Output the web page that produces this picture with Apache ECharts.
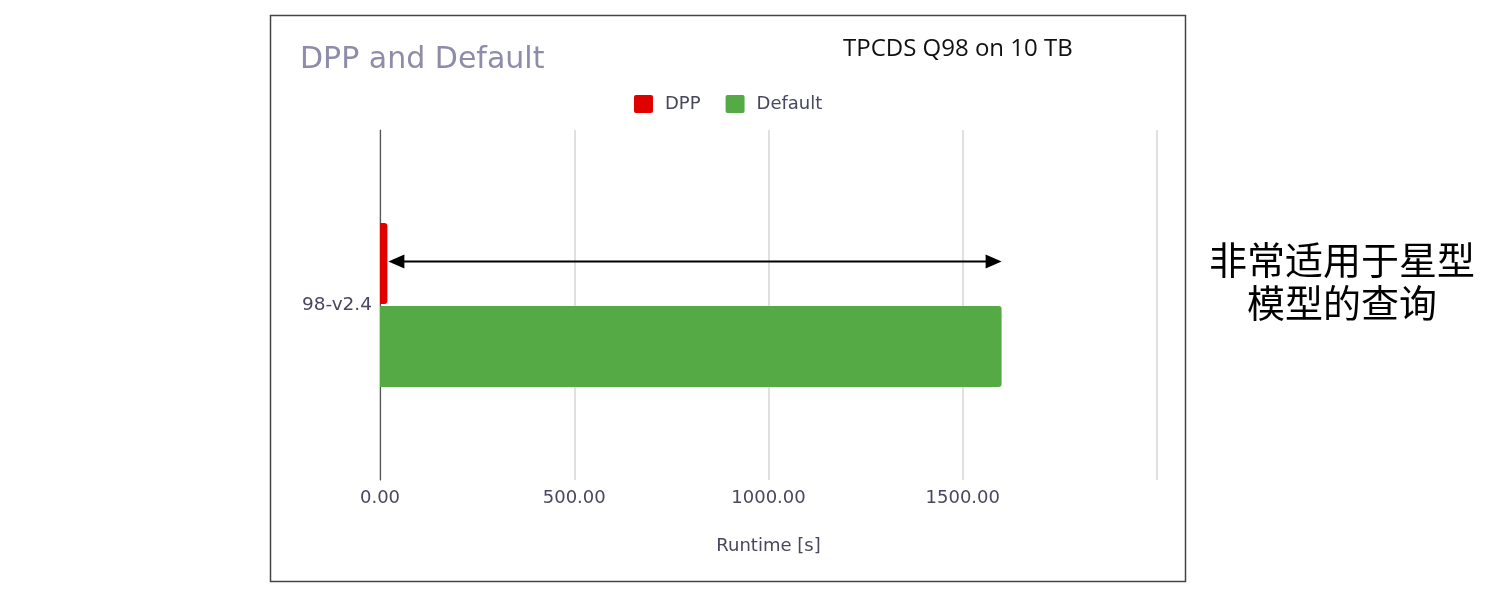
<!DOCTYPE html>
<html>
<head>
<meta charset="utf-8">
<script src="https://cdn.jsdelivr.net/npm/echarts@6/dist/echarts.min.js"></script>
<style>
html,body{margin:0;padding:0;background:#fff;}
#c{width:1508px;height:600px;}
</style>
</head>
<body>
<div id="c"></div>
<script>
const categories = ['98-v2.4'];
const seriesNames = ['DPP', 'Default'];
const dppValues = [19];
const defaultValues = [1600];
const xTicks = [0, 500, 1000, 1500, 2000];
const titleText = 'DPP and Default';
const subtitleText = 'TPCDS Q98 on 10 TB';
const sideNote = '非常适用于星型\n模型的查询';
const axisName = 'Runtime [s]';

const labelColor = '#47475f';
const FF = "'DejaVu Sans', Verdana, sans-serif";
const BAR_W = 81;
const GAP = 2;

const chart = echarts.init(document.getElementById('c'), null, {renderer: 'canvas'});
const option = {
  backgroundColor: '#fff',
  animation: false,
  title: [
    {text: titleText, left: 295, top: 40,
     textStyle: {fontFamily: FF, fontSize: 30, fontWeight: 'normal', color: '#8e8ca8'}},
    {text: subtitleText, left: 838, top: 32,
     textStyle: {fontFamily: "'Open Sans', sans-serif", fontSize: 24, fontWeight: 'normal', color: '#111'}}
  ],
  legend: {
    data: seriesNames, top: 90, left: 629, itemWidth: 19, itemHeight: 18, itemGap: 25,
    icon: 'path://M2,0 L17,0 Q19,0 19,2 L19,16 Q19,18 17,18 L2,18 Q0,18 0,16 L0,2 Q0,0 2,0 Z',
    textStyle: {fontFamily: FF, fontSize: 18, color: labelColor, padding: [0, 0, 0, 7]}
  },
  grid: {left: 380, right: 351, top: 130, bottom: 120, containLabel: false},
  xAxis: {
    type: 'value', min: xTicks[0], max: xTicks[xTicks.length - 1], interval: xTicks[1] - xTicks[0],
    name: axisName, nameLocation: 'middle', nameGap: 57,
    nameTextStyle: {fontFamily: FF, fontSize: 18, color: labelColor},
    axisLine: {show: false}, axisTick: {show: false},
    splitLine: {show: true, lineStyle: {color: '#d6d6d6', width: 1.5}},
    axisLabel: {margin: 9, fontFamily: FF, fontSize: 18, color: labelColor,
      formatter: v => v === xTicks[xTicks.length - 1] ? '' : v.toFixed(2)}
  },
  yAxis: {
    type: 'category', data: categories,
    axisLine: {show: true, lineStyle: {color: '#555', width: 1.2}},
    axisTick: {show: false},
    axisLabel: {margin: 8, fontFamily: FF, fontSize: 18.5, color: labelColor}
  },
  series: [
    {name: seriesNames[0], type: 'bar', data: dppValues, barWidth: BAR_W, barGap: (GAP / BAR_W * 100) + '%',
     itemStyle: {color: '#e00000', borderRadius: [0, 3, 3, 0]}},
    {name: seriesNames[1], type: 'bar', data: defaultValues, barWidth: BAR_W,
     itemStyle: {color: '#55aa45', borderRadius: [0, 3, 3, 0]}}
  ],
  graphic: []
};
chart.setOption(option);

// annotation arrow from DPP end to Default end, at DPP bar center
const x1 = chart.convertToPixel({xAxisIndex: 0}, dppValues[0]) + 1;
const x2 = chart.convertToPixel({xAxisIndex: 0}, defaultValues[0]);
const yc = chart.convertToPixel({yAxisIndex: 0}, categories[0]);
const ya = yc - (BAR_W + GAP) / 2 - 2;
const AL = 16, AH = 7;
chart.setOption({
  graphic: [
    {type: 'rect', shape: {x: 270.5, y: 15.5, width: 915, height: 566},
     style: {fill: 'none', stroke: '#444', lineWidth: 1.5}, z: 100},
    {type: 'line', shape: {x1: x1 + AL - 2, y1: ya, x2: x2 - AL + 2, y2: ya},
     style: {stroke: '#000', lineWidth: 2.2}, z: 100},
    {type: 'polygon', shape: {points: [[x1, ya], [x1 + AL, ya - AH], [x1 + AL, ya + AH]]},
     style: {fill: '#000'}, z: 100},
    {type: 'polygon', shape: {points: [[x2, ya], [x2 - AL, ya - AH], [x2 - AL, ya + AH]]},
     style: {fill: '#000'}, z: 100},
    {type: 'text', x: 1342, y: 281,
     style: {text: sideNote, fontFamily: "'Noto Sans CJK SC'", fontSize: 38, lineHeight: 43,
       fill: '#000', align: 'center', verticalAlign: 'middle'}, z: 100}
  ]
});
</script>
</body>
</html>
